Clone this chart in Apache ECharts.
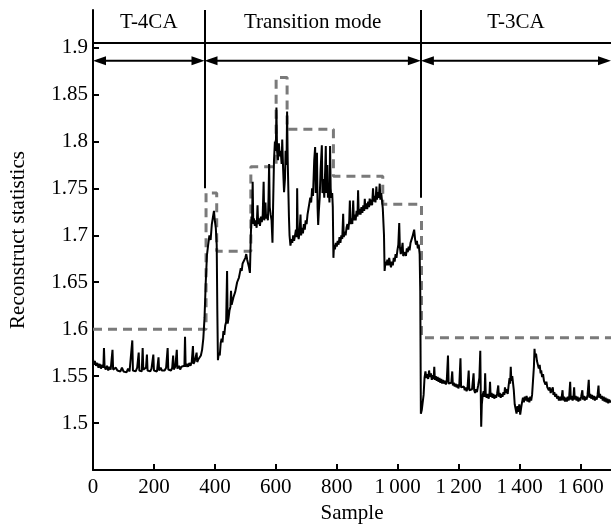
<!DOCTYPE html>
<html>
<head>
<meta charset="utf-8">
<script src="https://cdn.jsdelivr.net/npm/echarts@6/dist/echarts.min.js"></script>
<style>html,body{margin:0;padding:0;background:#fff;}#c{width:611px;height:529px;}</style>
</head>
<body>
<div id="c"></div>
<script>
// ---- data ----
const sampleTicks = [0, 200, 400, 600, 800, 1000, 1200, 1400, 1600];
const sampleTickLabels = ['0', '200', '400', '600', '800', '1\u2009000', '1\u2009200', '1\u2009400', '1\u2009600'];
const statTicks = [1.5, 1.55, 1.6, 1.65, 1.7, 1.75, 1.8, 1.85, 1.9];
const statTickLabels = ['1.5', '1.55', '1.6', '1.65', '1.7', '1.75', '1.8', '1.85', '1.9'];

const regionNames = ['T-4CA', 'Transition mode', 'T-3CA'];
const regionStart = [0, 366, 1076];
const regionEnd = [366, 1076, 1700];
const boundaryEnd = [1.75, 1.74];
const headerLevel = 1.905;
const arrowLevel = 1.886;
const labelLevel = 1.927;
const topLevel = 1.94;

// control limit (step) : start sample of each level, and the level
const limitStart = [0, 371, 406, 518, 601, 637, 789, 951, 1078, 1700];
const limitValue = [1.60, 1.745, 1.683, 1.773, 1.868, 1.813, 1.763, 1.733, 1.591, 1.591];

// reconstruct statistics [sample, value]
const reconstruct = [
[0,1.568],[3,1.562],[6,1.566],[10,1.561],[14,1.564],[18,1.559],[22,1.563],[26,1.558],[30,1.562],[34,1.559],[36,1.580],[38,1.560],[42,1.557],[46,1.561],[50,1.556],[54,1.560],[58,1.557],[62,1.559],[64,1.578],[66,1.557],[70,1.555],[75,1.559],[80,1.556],[85,1.558],[90,1.555],[95,1.559],[100,1.555],[105,1.557],[110,1.554],[115,1.558],[120,1.555],[125,1.557],[129,1.588],[131,1.556],[135,1.558],[140,1.555],[145,1.559],[150,1.575],[152,1.556],[156,1.558],[160,1.555],[163,1.580],[165,1.557],[170,1.555],[174,1.559],[177,1.573],[179,1.556],[184,1.558],[188,1.555],[192,1.558],[196,1.556],[198,1.573],[200,1.556],[205,1.558],[210,1.555],[215,1.570],[217,1.556],[222,1.559],[226,1.556],[230,1.558],[235,1.556],[240,1.559],[245,1.580],[247,1.557],[252,1.559],[256,1.556],[260,1.559],[263,1.572],[265,1.557],[270,1.560],[275,1.578],[277,1.558],[282,1.561],[286,1.557],[290,1.560],[295,1.558],[300,1.561],[302,1.592],[304,1.560],[308,1.563],[312,1.560],[316,1.564],[320,1.561],[324,1.565],[328,1.582],[330,1.563],[334,1.566],[338,1.564],[340,1.575],[342,1.565],[346,1.568],[350,1.566],[354,1.572],[358,1.578],[362,1.590],[366,1.612],[370,1.650],[374,1.679],[378,1.690],[382,1.700],[386,1.695],[390,1.712],[394,1.720],[397,1.726],[400,1.715],[403,1.708],[406,1.690],[408,1.620],[410,1.567],
[413,1.575],[416,1.572],[419,1.585],[422,1.590],[425,1.586],[428,1.598],[431,1.594],[434,1.604],[437,1.608],[440,1.662],[442,1.606],[445,1.612],[448,1.620],[451,1.624],[453,1.641],[455,1.626],[458,1.630],[461,1.634],[464,1.632],[467,1.640],[470,1.645],[473,1.650],[476,1.648],[479,1.655],[482,1.660],[485,1.665],[488,1.662],[491,1.670],[494,1.668],[497,1.672],[500,1.676],[503,1.680],[506,1.674],[509,1.670],[512,1.666],[515,1.660],[518,1.700],[520,1.720],[522,1.715],[524,1.757],[526,1.712],
[528,1.718],[531,1.710],[534,1.716],[537,1.708],[540,1.732],[542,1.712],[545,1.718],[548,1.710],[551,1.720],[554,1.714],[557,1.722],[560,1.757],[562,1.716],[565,1.724],[566,1.735],[568,1.718],[571,1.722],[574,1.716],[576,1.740],[578,1.776],[580,1.730],[583,1.722],[586,1.716],[589,1.692],[591,1.730],[594,1.780],[597,1.800],[600,1.790],
[602,1.836],[604,1.790],[607,1.780],[610,1.798],[613,1.784],[616,1.790],[619,1.776],[621,1.802],[624,1.770],[627,1.746],[630,1.760],[632,1.790],[635,1.775],[637,1.832],[639,1.780],[641,1.750],[643,1.720],[645,1.700],[648,1.689],[651,1.696],[654,1.692],[657,1.700],
[660,1.694],[663,1.700],[666,1.706],[669,1.698],[670,1.750],[672,1.702],[675,1.696],[678,1.704],[681,1.722],[683,1.700],[686,1.708],[689,1.702],[692,1.712],[695,1.706],[698,1.716],[701,1.712],[704,1.722],[707,1.728],[710,1.734],[713,1.740],[716,1.735],[719,1.750],[722,1.742],[726,1.780],[729,1.794],[731,1.745],[733,1.770],[735,1.788],[737,1.730],[739,1.711],[741,1.725],[744,1.740],[747,1.770],[751,1.796],[753,1.745],[756,1.760],[759,1.740],[762,1.770],[764,1.795],[766,1.745],[769,1.775],[771,1.740],[774,1.750],[776,1.735],[778,1.795],[780,1.750],[782,1.740],[785,1.745],[787,1.730],
[789,1.676],[791,1.690],[794,1.685],[797,1.692],[800,1.688],[803,1.694],[806,1.690],[809,1.698],[812,1.692],[815,1.700],[818,1.696],[821,1.723],[823,1.698],[826,1.704],[829,1.700],[832,1.708],[835,1.712],[838,1.706],[841,1.716],[843,1.737],[845,1.712],[848,1.718],[851,1.712],[854,1.737],[856,1.716],[859,1.722],[862,1.716],[865,1.726],[868,1.720],[870,1.748],[872,1.722],[875,1.728],[878,1.722],[881,1.730],[884,1.724],[887,1.732],[890,1.726],[892,1.739],[894,1.728],[897,1.734],[900,1.728],[903,1.736],[906,1.730],[908,1.739],[910,1.732],[913,1.738],[916,1.732],[919,1.750],[921,1.736],[924,1.742],[927,1.735],[930,1.752],[932,1.738],[935,1.746],[938,1.740],[941,1.755],[943,1.738],[946,1.745],[949,1.735],[951,1.729],
[955,1.700],[957,1.662],[960,1.672],[963,1.668],[966,1.674],[969,1.668],[972,1.676],[975,1.670],[978,1.666],[981,1.672],[984,1.668],[987,1.676],[990,1.672],[993,1.680],[996,1.676],[999,1.684],[1002,1.690],[1005,1.713],[1007,1.688],[1010,1.680],[1013,1.684],[1016,1.692],[1018,1.678],[1021,1.676],[1024,1.682],[1027,1.678],[1030,1.686],[1033,1.682],[1036,1.688],[1039,1.684],[1042,1.692],[1045,1.690],[1048,1.698],[1051,1.700],[1054,1.706],[1057,1.696],[1060,1.690],[1063,1.694],[1066,1.686],[1069,1.690],[1072,1.680],[1074,1.640],[1076,1.510],[1079,1.514],
[1082,1.512],[1085,1.530],[1088,1.548],[1091,1.555],[1094,1.548],[1097,1.552],[1100,1.547],[1103,1.556],[1106,1.549],[1109,1.553],[1112,1.546],[1115,1.551],[1118,1.547],[1120,1.560],[1122,1.546],[1125,1.550],[1128,1.545],[1131,1.549],[1134,1.544],[1137,1.548],[1140,1.543],[1143,1.547],[1146,1.542],[1149,1.546],[1152,1.542],[1155,1.545],[1158,1.541],[1161,1.545],[1165,1.572],[1167,1.542],[1170,1.544],[1173,1.540],[1176,1.543],[1179,1.555],[1181,1.540],[1184,1.543],[1187,1.539],[1190,1.542],[1193,1.538],[1196,1.541],[1199,1.537],[1202,1.540],[1206,1.569],[1208,1.538],[1211,1.540],[1214,1.536],[1217,1.539],[1220,1.535],[1223,1.538],[1226,1.534],[1229,1.537],[1233,1.556],[1235,1.535],[1238,1.537],[1241,1.533],[1244,1.536],[1247,1.534],[1249,1.553],[1251,1.535],[1254,1.532],[1257,1.536],[1260,1.533],[1264,1.540],[1268,1.548],[1271,1.577],[1273,1.520],[1274,1.496],[1276,1.520],[1279,1.530],[1282,1.534],[1285,1.528],[1287,1.553],[1289,1.530],[1292,1.527],[1295,1.531],[1298,1.526],[1301,1.530],[1303,1.544],[1305,1.528],[1308,1.532],[1311,1.527],[1314,1.531],[1317,1.526],[1320,1.530],[1323,1.527],[1326,1.531],[1330,1.540],[1332,1.528],[1335,1.532],[1338,1.527],[1341,1.531],[1344,1.528],[1347,1.533],[1350,1.530],[1352,1.538],[1355,1.532],[1358,1.536],[1361,1.531],[1364,1.540],[1367,1.548],[1369,1.542],[1371,1.560],[1373,1.545],[1376,1.550],[1379,1.552],[1381,1.535],[1384,1.520],[1387,1.515],[1390,1.510],[1393,1.518],[1396,1.512],[1399,1.520],[1402,1.509],[1405,1.516],[1408,1.522],[1411,1.527],[1414,1.522],[1417,1.528],[1420,1.524],[1423,1.529],[1426,1.523],[1429,1.527],[1432,1.522],[1435,1.528],[1438,1.524],[1441,1.530],[1444,1.532],[1447,1.560],[1449,1.579],[1451,1.570],[1454,1.574],[1457,1.566],[1460,1.567],[1463,1.558],[1466,1.562],[1469,1.553],[1471,1.556],[1474,1.549],[1477,1.552],[1480,1.545],[1482,1.546],[1485,1.541],[1488,1.544],[1491,1.538],[1493,1.540],[1496,1.535],[1499,1.538],[1502,1.532],[1505,1.535],[1509,1.538],[1511,1.530],[1514,1.533],[1517,1.528],[1520,1.531],[1523,1.526],[1526,1.529],[1529,1.524],[1532,1.528],[1535,1.524],[1538,1.527],[1541,1.535],[1543,1.524],[1546,1.528],[1549,1.523],[1552,1.527],[1555,1.523],[1558,1.528],[1561,1.524],[1563,1.529],[1566,1.544],[1568,1.525],[1571,1.529],[1574,1.524],[1577,1.528],[1579,1.538],[1581,1.525],[1584,1.529],[1587,1.524],[1590,1.528],[1593,1.523],[1596,1.527],[1599,1.524],[1602,1.528],[1606,1.535],[1608,1.525],[1611,1.529],[1614,1.524],[1617,1.528],[1620,1.525],[1623,1.530],[1627,1.546],[1629,1.527],[1632,1.531],[1635,1.526],[1638,1.530],[1641,1.525],[1644,1.529],[1647,1.524],[1650,1.528],[1653,1.525],[1656,1.530],[1659,1.540],[1661,1.527],[1664,1.531],[1667,1.526],[1670,1.529],[1673,1.524],[1676,1.528],[1679,1.523],[1682,1.527],[1685,1.522],[1688,1.526],[1691,1.521],[1694,1.525],[1697,1.522],[1700,1.524]
];

// ---- chart ----
const FONT = '"Liberation Serif", "Times New Roman", serif';
const FS = 21;
const chart = echarts.init(document.getElementById('c'), null, {renderer: 'canvas'});

const limitData = limitStart.map((s, i) => [s, limitValue[i]]);
const regionData = regionStart.map((s, i) => [s, regionEnd[i], i]);

const markLineData = [
  [{coord: [0, headerLevel]}, {coord: [1700, headerLevel]}]
].concat(regionStart.slice(1).map((b, i) => [{coord: [b, topLevel]}, {coord: [b, boundaryEnd[i]]}]));

chart.setOption({
  animation: false,
  backgroundColor: '#fff',
  grid: {left: 87, right: 0, top: 10, bottom: 55, containLabel: false},
  xAxis: {
    type: 'value', min: 0, max: 1700,
    name: 'Sample', nameLocation: 'middle', nameGap: 33,
    nameTextStyle: {color: '#000', fontFamily: FONT, fontSize: FS},
    axisLine: {show: true, onZero: false, lineStyle: {color: '#000', width: 2}},
    axisTick: {show: true, inside: true, length: 6, customValues: sampleTicks, lineStyle: {color: '#000', width: 2}},
    axisLabel: {
      customValues: sampleTicks, color: '#000', fontFamily: FONT, fontSize: FS, margin: 7,
      formatter: v => { const i = sampleTicks.indexOf(Math.round(v)); return i >= 0 ? sampleTickLabels[i] : ''; }
    },
    splitLine: {show: false}
  },
  yAxis: {
    type: 'value', min: 1.45, max: topLevel,
    name: 'Reconstruct statistics', nameLocation: 'middle', nameGap: 64, nameRotate: 90,
    nameTextStyle: {color: '#000', fontFamily: FONT, fontSize: FS},
    axisLine: {show: true, onZero: false, lineStyle: {color: '#000', width: 2}},
    axisTick: {show: true, inside: true, length: 6, customValues: statTicks, lineStyle: {color: '#000', width: 2}},
    axisLabel: {
      customValues: statTicks, color: '#000', fontFamily: FONT, fontSize: FS, margin: 5,
      formatter: v => { const i = statTicks.findIndex(t => Math.abs(t - v) < 1e-6); return i >= 0 ? statTickLabels[i] : ''; }
    },
    splitLine: {show: false}
  },
  series: [
    {
      name: 'Limit', type: 'line', step: 'end', data: limitData, symbol: 'none', z: 2,
      lineStyle: {color: '#7a7a7a', width: 3, type: [9, 6]}
    },
    {
      name: 'Reconstruct statistics', type: 'line', data: reconstruct, symbol: 'none', z: 3,
      lineStyle: {color: '#000', width: 2},
      markLine: {
        silent: true, symbol: ['none', 'none'], label: {show: false},
        lineStyle: {color: '#000', width: 2, type: 'solid'},
        data: markLineData
      }
    },
    {
      name: 'Regions', type: 'custom', data: regionData, clip: false, silent: true, z: 4,
      renderItem: function (params, api) {
        const s = api.value(0), e = api.value(1), idx = api.value(2);
        const p1 = api.coord([s, arrowLevel]);
        const p2 = api.coord([e, arrowLevel]);
        const pl = api.coord([(s + e) / 2, labelLevel]);
        const L = 13, H = 4.5;
        return {
          type: 'group',
          children: [
            {type: 'line', shape: {x1: p1[0] + 4, y1: p1[1], x2: p2[0] - 4, y2: p2[1]}, style: {stroke: '#000', lineWidth: 2}},
            {type: 'polygon', shape: {points: [[p1[0], p1[1]], [p1[0] + L, p1[1] - H], [p1[0] + L, p1[1] + H]]}, style: {fill: '#000'}},
            {type: 'polygon', shape: {points: [[p2[0], p2[1]], [p2[0] - L, p2[1] - H], [p2[0] - L, p2[1] + H]]}, style: {fill: '#000'}},
            {type: 'text', x: pl[0], y: pl[1], style: {text: regionNames[idx], fill: '#000', font: FS + 'px ' + FONT, align: 'center', verticalAlign: 'middle'}}
          ]
        };
      }
    }
  ]
});
</script>
</body>
</html>
